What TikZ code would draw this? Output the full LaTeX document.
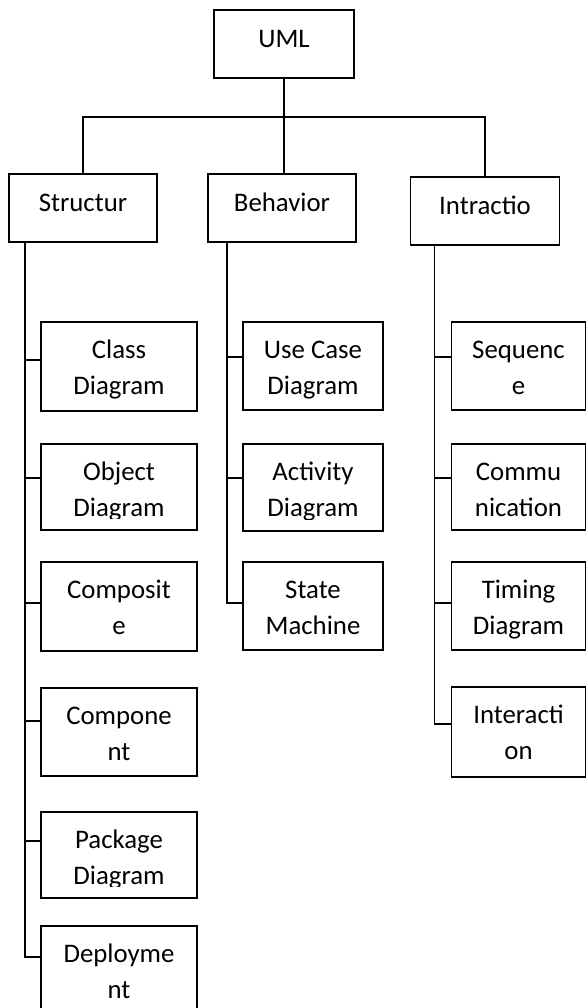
\documentclass[tikz,border=0pt]{standalone}
\usepackage{fontspec}
\setmainfont{Carlito}
\newcommand{\umlbox}[7]{%
  \node[box, minimum width=#4pt, minimum height=#5pt] (#1) at (#2,#3) {};
  \begin{scope}
    \clip ([yshift=12pt]#1.south west) rectangle (#1.north east);
    \node[lbl, anchor=north] (#1-t) at ([yshift=-#7pt]#1.north) {\rule{0pt}{20pt}#6};
  \end{scope}}
\begin{document}
\begin{tikzpicture}[x=1pt,y=-1pt,
  box/.style={draw=black, line width=1.9pt, rectangle, inner sep=0pt},
  lbl/.style={font=\fontsize{26.8pt}{35.8pt}\selectfont, align=center, inner sep=0pt},
  conn/.style={draw=black, line width=1.8pt}]
\fill[white] (0,0) rectangle (587,1008);
\useasboundingbox (0,0) rectangle (587,1008);
% top level
\umlbox{uml}{284}{44}{140}{68}{UML}{18.5}
\umlbox{str}{83}{208}{148}{68}{Structur}{18.5}
\umlbox{beh}{282}{208}{148}{68}{Behavior}{18.5}
\umlbox{int}{485}{211}{149}{68}{Intractio}{18.5}
% structure column
\umlbox{cls}{119}{366.5}{156}{89}{Class\\Diagram}{17}
\umlbox{obj}{119}{487}{156}{86}{Object\\Diagram}{17}
\umlbox{cmp}{119}{606.5}{156}{89}{Composit\\e}{17}
\umlbox{cpn}{119}{732}{156}{88}{Compone\\nt}{17}
\umlbox{pkg}{119}{855}{156}{86}{Package\\Diagram}{17}
\umlbox{dep}{119}{970}{156}{88}{Deployme\\nt}{17}
% behavior column
\umlbox{uc}{313}{366}{140}{88}{Use Case\\Diagram}{17}
\umlbox{act}{313}{487.5}{140}{87}{Activity\\Diagram}{17}
\umlbox{stm}{313}{606}{140}{88}{State\\Machine}{17}
% interaction column
\umlbox{seq}{518.5}{366}{134}{88}{Sequenc\\e}{17}
\umlbox{com}{518.5}{487}{134}{86}{Commu\\nication}{17}
\umlbox{tim}{518.5}{606}{134}{88}{Timing\\Diagram}{17}
\umlbox{iac}{518.5}{732}{134}{90}{Interacti\\on}{17}
% top connectors
\coordinate (bus) at ([yshift=-38pt]uml.south);
\draw[conn] (uml.south) -- (bus);
\draw[conn] (str.north) -- (str.north |- bus) -- (int.north |- bus) -- (int.north);
\draw[conn] (bus) -- (bus |- beh.north);
% column spines
\coordinate (sl) at ([xshift=17pt]str.south west);
\coordinate (bl) at ([xshift=20pt]beh.south west);
\coordinate (il) at ([xshift=25pt]int.south west);
% structure branches
\coordinate (clsb) at ([yshift=6.5pt]cls.west);
\coordinate (objb) at ([yshift=9pt]obj.west);
\coordinate (cmpb) at ([yshift=3.5pt]cmp.west);
\coordinate (cpnb) at ([yshift=11pt]cpn.west);
\coordinate (pkgb) at ([yshift=14pt]pkg.west);
\coordinate (depb) at ([yshift=13pt]dep.west);
\draw[conn] (sl) |- (depb);
\foreach \b in {clsb,objb,cmpb,cpnb,pkgb}{\draw[conn] (\b -| sl) -- (\b);}
% behavior branches
\coordinate (ucb) at ([yshift=9pt]uc.west);
\coordinate (actb) at ([yshift=9.5pt]act.west);
\coordinate (stmb) at ([yshift=3pt]stm.west);
\draw[conn] (bl) |- (stmb);
\foreach \b in {ucb,actb}{\draw[conn] (\b -| bl) -- (\b);}
% interaction branches
\coordinate (seqb) at ([yshift=9pt]seq.west);
\coordinate (comb) at ([yshift=9pt]com.west);
\coordinate (timb) at ([yshift=3pt]tim.west);
\coordinate (iacb) at ([yshift=8pt]iac.west);
\draw[conn] (il) |- (iacb);
\foreach \b in {seqb,comb,timb}{\draw[conn] (\b -| il) -- (\b);}
\end{tikzpicture}
\end{document}
